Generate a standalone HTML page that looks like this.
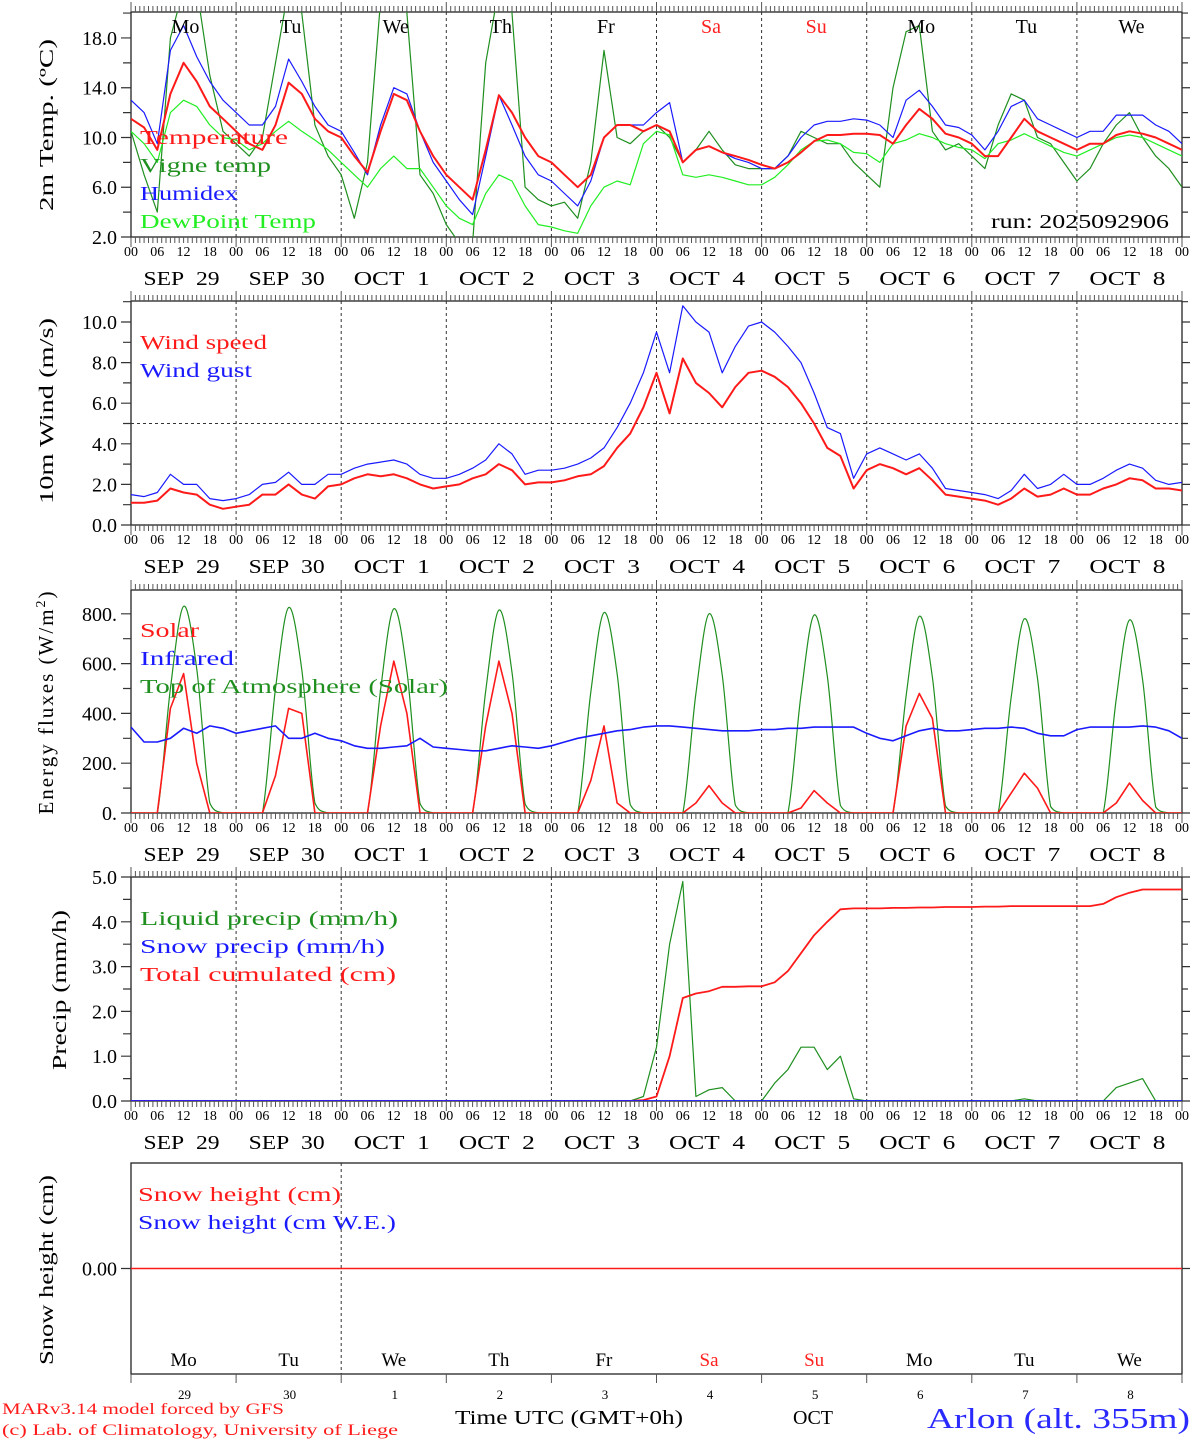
<!DOCTYPE html>
<html><head><meta charset="utf-8"><style>
html,body{margin:0;padding:0;background:#fff;}
svg{display:block;font-family:"Liberation Serif",serif;}
</style></head><body>
<svg id="chart" width="1194" height="1440" viewBox="0 0 1194 1440" xmlns="http://www.w3.org/2000/svg">
<rect width="1194" height="1440" fill="#fff"/>
</svg>
<script>
// ---- data (3-hourly values from Sep 29 00UTC, 81 points) ----
const dayNames = ["Mo","Tu","We","Th","Fr","Sa","Su","Mo","Tu","We"];
const dateLabels = ["SEP  29","SEP  30","OCT   1","OCT   2","OCT   3","OCT   4","OCT   5","OCT   6","OCT   7","OCT   8"];
const dayNums = ["29","30","1","2","3","4","5","6","7","8"];
const hourLabels = ["00","06","12","18"];

const temperature = [11.5,10.8,9.0,13.5,16,14.5,12.5,11.5, 10.5,9.5,9,11,14.4,13.5,11.5,10.5, 10,8.5,7.2,10.5,13.5,13,10.5,8.5, 7,6,5,9,13.4,12,10,8.5, 8,7,6,7,10,11,11,10.5, 11,10.5,8,9,9.3,8.8,8.5,8.2, 7.8,7.5,8,8.8,9.7,10.2,10.2,10.3, 10.3,10.2,9.5,11,12.3,11.5,10.3,10, 9.5,8.5,8.5,10,11.5,10.5,10,9.5, 9,9.5,9.5,10.2,10.5,10.3,10,9.5, 9];
const humidex = [13,12,9.5,17,19,16.5,14.5,13, 12,11,11,12.5,16.3,14.5,12.5,11, 10.5,8.8,7,11,14,13.5,10.5,8, 6.5,5,3.8,8.5,13.4,11,8.5,7, 6.5,5.5,4.5,6.5,10,11,11,11, 12,12.8,8,9,9.3,8.8,8.3,8, 7.5,7.5,8.5,10,11,11.3,11.3,11.5, 11.4,11,10,13,13.8,12.5,11,10.8, 10.2,9,10.5,12.5,13,11.5,11,10.5, 10,10.5,10.5,11.8,11.8,11.8,11,10.5, 9.5];
const dewPoint = [10.5,9.5,8,12,13,12.5,11,10, 9.8,9,9.5,10.5,11.3,10.5,9.8,9, 8,7,6,7.5,8.5,7.5,7.5,6, 4.5,3.5,3,5.5,7,6.5,4.5,3, 2.8,2.5,2.3,4.5,6,6.5,6.2,9.5, 10.5,10.2,7,6.8,7,6.8,6.5,6.2, 6.2,6.8,7.8,9,9.7,9.8,9.5,8.8, 8.7,8,9.5,9.8,10.3,10,9.5,9.2, 9,8.3,9.5,9.8,10.3,9.8,9.3,8.8, 8.5,9,9.5,10,10.2,10,9.5,9, 8.5];
const vigneTemp = [10.5,7,4,18,22,22,15,10.5, 9.5,8.5,10,16,22,20,11,8.5, 7,3.5,8,21,22,20,7,5.5, 3,1.5,1.5,16,22,20,6,5, 4.5,4.8,3.5,8,17,10,9.5,10.5, 11,10,8,9,10.5,9,7.8,7.5, 7.5,7.5,8.5,10.5,10,9.5,9.5,8, 7,6,14,18.5,19,10.5,9,9.5, 8.5,7.5,11,13.5,13,10,9.5,8, 6.5,7.5,9.5,11,12,10,8.5,7.5, 6];

const windSpeed = [1.1,1.1,1.2,1.8,1.6,1.5,1.0,0.8, 0.9,1.0,1.5,1.5,2.0,1.5,1.3,1.9, 2.0,2.3,2.5,2.4,2.5,2.3,2.0,1.8, 1.9,2.0,2.3,2.5,3.0,2.7,2.0,2.1, 2.1,2.2,2.4,2.5,2.9,3.8,4.5,5.8, 7.5,5.5,8.2,7.0,6.5,5.8,6.8,7.5, 7.6,7.3,6.8,6.0,5.0,3.8,3.4,1.8, 2.7,3.0,2.8,2.5,2.8,2.2,1.5,1.4, 1.3,1.2,1.0,1.3,1.8,1.4,1.5,1.8, 1.5,1.5,1.8,2.0,2.3,2.2,1.8,1.8, 1.7];
const windGust = [1.5,1.4,1.6,2.5,2.0,2.0,1.3,1.2, 1.3,1.5,2.0,2.1,2.6,2.0,2.0,2.5, 2.5,2.8,3.0,3.1,3.2,3.0,2.5,2.3, 2.3,2.5,2.8,3.2,4.0,3.5,2.5,2.7, 2.7,2.8,3.0,3.3,3.8,4.8,6.0,7.5, 9.5,7.5,10.8,10.0,9.5,7.5,8.8,9.8, 10.0,9.5,8.8,8.0,6.5,4.8,4.5,2.3, 3.5,3.8,3.5,3.2,3.5,2.8,1.8,1.7, 1.6,1.5,1.3,1.7,2.5,1.8,2.0,2.5, 2.0,2.0,2.3,2.7,3.0,2.8,2.2,2.0, 2.1];

const solar = [0,0,0,420,560,200,0,0, 0,0,0,150,420,400,0,0, 0,0,0,350,610,400,0,0, 0,0,0,350,610,400,0,0, 0,0,0,130,350,40,0,0, 0,0,0,40,110,40,0,0, 0,0,0,20,90,40,0,0, 0,0,0,350,480,380,0,0, 0,0,0,80,160,100,0,0, 0,0,0,40,120,50,0,0, 0];
const infrared = [345,285,285,300,340,320,350,340, 320,330,340,350,300,300,320,300, 290,270,260,260,265,270,300,265, 260,255,250,250,260,270,265,260, 270,285,300,310,320,330,335,345, 350,350,345,340,335,330,330,330, 335,335,340,340,345,345,345,345, 320,300,290,310,330,340,330,330, 335,340,340,345,340,320,310,310, 335,345,345,345,345,350,345,330, 300];
const toaSolar = [0,0,0,500,830,580,40,0, 0,0,0,500,825,575,40,0, 0,0,0,495,820,570,38,0, 0,0,0,490,815,565,36,0, 0,0,0,485,805,560,34,0, 0,0,0,480,800,555,32,0, 0,0,0,475,795,550,30,0, 0,0,0,470,790,545,28,0, 0,0,0,465,780,540,26,0, 0,0,0,460,775,535,24,0, 0];

const liquidPrecip = [0,0,0,0,0,0,0,0, 0,0,0,0,0,0,0,0, 0,0,0,0,0,0,0,0, 0,0,0,0,0,0,0,0, 0,0,0,0,0,0,0,0.1, 1.2,3.5,4.9,0.1,0.25,0.3,0,0, 0,0.4,0.7,1.2,1.2,0.7,1.0,0.05, 0,0,0,0,0,0,0,0, 0,0,0,0,0.05,0,0,0, 0,0,0,0.3,0.4,0.5,0,0, 0];
const snowPrecip = new Array(81).fill(0);
const totalCum = [0,0,0,0,0,0,0,0, 0,0,0,0,0,0,0,0, 0,0,0,0,0,0,0,0, 0,0,0,0,0,0,0,0, 0,0,0,0,0,0,0,0.02, 0.1,1.0,2.3,2.4,2.45,2.55,2.55,2.56, 2.56,2.65,2.9,3.3,3.7,4.0,4.28,4.3, 4.3,4.3,4.31,4.31,4.32,4.32,4.33,4.33, 4.33,4.34,4.34,4.35,4.35,4.35,4.35,4.35, 4.35,4.35,4.4,4.55,4.65,4.72,4.72,4.72, 4.72];
const snowHeight = new Array(81).fill(0);

const tempTicks = [2,6,10,14,18];
const windTicks = [0,2,4,6,8,10];
const fluxTicks = [0,200,400,600,800];
const precipTicks = [0,1,2,3,4,5];

// ---- layout ----
const svg = document.getElementById('chart');
const NS = "http://www.w3.org/2000/svg";
const X0 = 131, X1 = 1182, NSTEP = 80;
const DAYW = (X1 - X0) / 10;
function xAt(i){ return X0 + i * (X1 - X0) / NSTEP; }
function mk(tag, attrs, parent){ const e = document.createElementNS(NS, tag); for (const k in attrs) e.setAttribute(k, attrs[k]); (parent||svg).appendChild(e); return e; }
function txt(s, x, y, size, fill, anchor, parent, len){ const t = mk('text', {x:x, y:y, 'font-size':size, fill:fill||'#000', 'text-anchor':anchor||'start'}, parent); if (len) { t.setAttribute('textLength', len); t.setAttribute('lengthAdjust','spacingAndGlyphs'); } t.textContent = s; return t; }

const panels = [
  {name:'temperature-panel', top:12, bottom:237, min:2, max:2+(237-12)/12.44},
  {name:'wind-panel', top:301, bottom:525, min:0, max:(525-301)/20.3},
  {name:'energy-panel', top:590, bottom:813, min:0, max:(813-590)/0.249},
  {name:'precip-panel', top:877, bottom:1101, min:0, max:5.0},
  {name:'snow-panel', top:1163, bottom:1374, min:-1, max:1}
];
function yFn(p){ return v => p.bottom - (v - p.min) / (p.max - p.min) * (p.bottom - p.top); }

panels.forEach((p, pi) => {
  const g = mk('g', {});  
  p.g = g; p.y = yFn(p);
  const cp = mk('clipPath', {id:'clip'+pi}, g);
  mk('rect', {x:X0, y:p.top, width:X1-X0, height:p.bottom-p.top}, cp);
  const nd = pi === 4 ? [2] : [1,2,3,4,5,6,7,8,9];
  nd.forEach(d => { const l = mk('line', {x1:X0+d*DAYW, x2:X0+d*DAYW, y1:p.top, y2:p.bottom, stroke:'#333', 'stroke-width':1, 'stroke-dasharray':'3,3'}, g);   });
  const fr = mk('rect', {x:X0, y:p.top, width:X1-X0, height:p.bottom-p.top, fill:'none', stroke:'#222', 'stroke-width':1.3}, g);
   
  if (pi < 4) {
    let dd = '';
    for (let h = 0; h <= 240; h++) {
      const x = X0 + h * (X1 - X0) / 240;
      const L = (h % 24 === 0) ? 10 : 6;
      dd += `M${x.toFixed(1)},${p.top}v${-L}M${x.toFixed(1)},${p.bottom}v${L}`;
    }
    mk('path', {d:dd, stroke:'#555', 'stroke-width':1, fill:'none'}, g);
    for (let d = 0; d < 10; d++) for (let k = 0; k < 4; k++) {
      txt(hourLabels[k], X0 + d*DAYW + k*DAYW/4, p.bottom + 19, 14, '#000', 'middle', g);
    }
    txt(hourLabels[0], X1, p.bottom + 19, 14, '#000', 'middle', g);
    for (let d = 0; d < 10; d++) {
      const t = txt(dateLabels[d].replace(/ +/g,'\u00a0\u00a0'), X0 + d*DAYW + DAYW/2 - 2, p.bottom + 48, 20, '#000', 'middle', g, 76);
       
    }
  } else {
    let dd = '';
    for (let d = 0; d <= 10; d++) dd += `M${(X0+d*DAYW).toFixed(1)},${p.bottom}v9`;
    mk('path', {d:dd, stroke:'#555', 'stroke-width':1}, g);
  }
});

function yTicks(p, ticks, fmt, minor){
  let dd = '';
  ticks.forEach(v => { const y = p.y(v); dd += `M${X0-10},${y}h10M${X1},${y}h8`; txt(fmt(v), X0-14, y+7, 20, '#000', 'end', p.g); });
  minor.forEach(v => { const y = p.y(v); dd += `M${X0-8},${y}h8M${X1},${y}h6`; });
  mk('path', {d:dd, stroke:'#333', 'stroke-width':1.2}, p.g);
}
yTicks(panels[0], tempTicks, v => v.toFixed(1), [4,8,12,16,20]);
yTicks(panels[1], windTicks, v => v.toFixed(1), [1,3,5,7,9,11]);
yTicks(panels[2], fluxTicks, v => v + '.', [100,300,500,700]);
yTicks(panels[3], precipTicks, v => v.toFixed(1), [0.5,1.5,2.5,3.5,4.5]);
yTicks(panels[4], [0], v => v.toFixed(2), []);

function series(p, pi, data, color, width, name, smooth){
  const pts = data.map((v, i) => [xAt(i), p.y(v)]);
  let d = 'M' + pts[0][0].toFixed(1) + ',' + pts[0][1].toFixed(1);
  for (let i = 1; i < pts.length; i++) {
    if (smooth) {
      const p0 = pts[Math.max(0,i-2)], p1 = pts[i-1], p2 = pts[i], p3 = pts[Math.min(pts.length-1,i+1)];
      let c1y = p1[1] + (p2[1]-p0[1])/6, c2y = p2[1] - (p3[1]-p1[1])/6;
      const lo = Math.max(p1[1],p2[1]) ; const base = p.y(0);
      c1y = Math.min(c1y, base); c2y = Math.min(c2y, base);
      d += `C${(p1[0]+(p2[0]-p0[0])/6).toFixed(1)},${c1y.toFixed(1)} ${(p2[0]-(p3[0]-p1[0])/6).toFixed(1)},${c2y.toFixed(1)} ${p2[0].toFixed(1)},${p2[1].toFixed(1)}`;
    } else d += 'L' + pts[i][0].toFixed(1) + ',' + pts[i][1].toFixed(1);
  }
  const path = mk('path', {d:d, fill:'none', stroke:color, 'stroke-width':width, 'clip-path':`url(#clip${pi})`, 'stroke-linejoin':'round'}, p.g);
  
  
}
const P = panels;
series(P[0],0,vigneTemp,'#1f8f1f',1.2,'vigne-temp-line');
series(P[0],0,dewPoint,'#22ee22',1.2,'dewpoint-line');
series(P[0],0,humidex,'#1a1aff',1.2,'humidex-line');
series(P[0],0,temperature,'#ff1a1a',2,'temperature-line');
mk('line',{x1:X0,x2:X1,y1:P[1].y(5),y2:P[1].y(5),stroke:'#333','stroke-dasharray':'3,3'},P[1].g);
series(P[1],1,windGust,'#1a1aff',1.2,'wind-gust-line');
series(P[1],1,windSpeed,'#ff1a1a',2,'wind-speed-line');
series(P[2],2,toaSolar,'#1f8f1f',1.2,'toa-solar-line',true);
series(P[2],2,solar,'#ff1a1a',1.6,'solar-line');
series(P[2],2,infrared,'#1a1aff',1.6,'infrared-line');
series(P[3],3,liquidPrecip,'#1f8f1f',1.2,'liquid-precip-line');
series(P[3],3,totalCum,'#ff1a1a',1.8,'total-cumulated-line');
series(P[3],3,snowPrecip,'#1a1aff',1.8,'snow-precip-line');
series(P[4],4,snowHeight,'#ff1a1a',1.4,'snow-height-line');

dayNames.forEach((n, d) => {
  const c = (d === 5 || d === 6) ? '#ff2020' : '#000';
  const t1 = txt(n, X0 + d*DAYW + DAYW/2 + 2, 33, 20, c, 'middle', P[0].g);
   
  const t2 = txt(n, X0 + d*DAYW + DAYW/2, 1366, 19, c, 'middle', P[4].g);
   
  const t3 = txt(dayNums[d], X0 + d*DAYW + DAYW/2 + 1, 1399, 13, '#000', 'middle', P[4].g);
   
});

function legend(p, items){
  items.forEach(it => { const t = txt(it[0], it[2], it[3], 20, it[1], 'start', p.g, it[4]);   });
}
legend(P[0], [["Temperature",'#ff1a1a',140,144,148],["Vigne temp",'#1f8f1f',140,172,131],["Humidex",'#1a1aff',140,200,98],["DewPoint Temp",'#22ee22',140,228,176]]);
legend(P[1], [["Wind speed",'#ff1a1a',140,349,127],["Wind gust",'#1a1aff',140,377,112]]);
legend(P[2], [["Solar",'#ff1a1a',140,637,59],["Infrared",'#1a1aff',140,665,94],["Top of Atmosphere (Solar)",'#1f8f1f',140,693,308]]);
legend(P[3], [["Liquid precip (mm/h)",'#1f8f1f',140,925,258],["Snow precip (mm/h)",'#1a1aff',140,953,245],["Total cumulated (cm)",'#ff1a1a',140,981,256]]);
legend(P[4], [["Snow height (cm)",'#ff1a1a',138,1201,203],["Snow height (cm W.E.)",'#1a1aff',138,1229,258]]);
const run = txt("run: 2025092906", 1169, 228, 20, '#000', 'end', P[0].g, 178);
 

function ytitle(s, x, y, len){ const t = txt(s, x, y, 20, '#000', 'middle', svg, len); t.setAttribute('transform', `rotate(-90 ${x} ${y})`);   return t; }
ytitle("2m Temp. (\u00baC)", 53, 125, 172);
ytitle("10m Wind (m/s)", 53, 411, 186);
const ef = ytitle("", 53, 702);
ef.setAttribute('font-size','21');
ef.setAttribute('letter-spacing','2');
ef.textContent = "Energy fluxes (W/m";
const sup = document.createElementNS(NS,'tspan'); sup.setAttribute('dy','-8'); sup.setAttribute('font-size','14'); sup.textContent='2'; ef.appendChild(sup);
const cl = document.createElementNS(NS,'tspan'); cl.setAttribute('dy','8'); cl.textContent=')'; ef.appendChild(cl);
ytitle("Precip (mm/h)", 66, 990, 160);
ytitle("Snow height (cm)", 53, 1270, 190);

const f1 = txt("MARv3.14 model forced by GFS", 2, 1414, 16, '#ff1a1a', 'start', svg, 282);  
const f2 = txt("(c) Lab. of Climatology, University of Liege", 2, 1435, 16, '#ff1a1a', 'start', svg, 396);  
const f3 = txt("Time UTC (GMT+0h)", 455, 1424, 20, '#000', 'start', svg, 228);  
const f4 = txt("OCT", 813, 1424, 20, '#000', 'middle', svg);  
const f5 = txt("Arlon (alt. 355m)", 927, 1428, 29, '#2a2aff', 'start', svg, 263);  
</script>
</body></html>
